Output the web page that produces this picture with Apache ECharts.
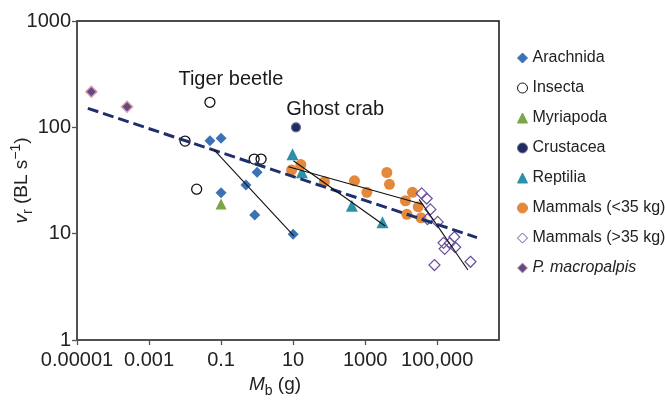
<!DOCTYPE html>
<html><head><meta charset="utf-8">
<script src="https://cdn.jsdelivr.net/npm/echarts@6/dist/echarts.min.js"></script>
<style>html,body{margin:0;padding:0;background:#fff}#c{width:665px;height:403px}</style>
</head><body><div id="c"></div>
<script>
// ---- data: [body mass (g), relative speed (BL s^-1)] ----
const arachnida = [[0.049,74.8],[0.1,78.8],[1.0,37.8],[0.49,28.7],[0.1,24.3],[0.86,15.0],[10,9.9]];
const insecta = [[0.049,172],[0.01,74.3],[0.021,26.2],[0.83,50.3],[1.29,50.3]];
const myriapoda = [[0.1,19.0]];
const crustacea = [[12,100]];
const reptilia = [[9.6,55.7],[17.5,37.8],[428,18.3],[3030,12.8]];
const mammalsSmall = [[9.1,39.7],[16.4,44.7],[74,30.8],[505,31.4],[1115,24.5],[4000,37.6],[4730,29.1],[20600,24.5],[13150,20.4],[29650,17.9],[14400,15.2],[35500,14.1]];
const mammalsLarge = [[37100,23.9],[51100,21.4],[64700,16.9],[53800,13.7],[103000,12.9],[300000,9.3],[150000,8.2],[225000,8.16],[161000,7.2],[316000,7.45],[84100,5.07],[841000,5.44]];
const pMacropalpis = [[2.5e-5,216],[2.45e-4,156]];
// fitted lines (end points)
const fitAll = [[2.0e-5,151],[1.27e6,9.19]];
const fitArachnida = [[0.065,61.2],[10.45,9.55]];
const fitReptilia = [[10.2,48.5],[3590,11.8]];
const fitMammalsSmall = [[7.4,42.6],[39000,18.9]];
const fitMammalsLarge = [[31600,21.0],[713000,4.55]];
// annotations [mass, speed, text]
const annotations = [[0.187,284,'Tiger beetle'],[147,145.6,'Ghost crab']];
// axes
const xMinMass = 1e-5, xMaxMass = 5.2e6;
const xTickValues = [1e-5,1e-3,0.1,10,1000,1e5];
const xTickLabels = ['0.00001','0.001','0.1','10','1000','100,000'];
const yMin = 1, yMax = 1000;

const FONT = 'Liberation Sans, Arial, Helvetica, sans-serif';
const L = p => [Math.log10(p[0]), p[1]];
const xTickLogs = xTickValues.map(v => Math.log10(v));

function scatter(name, data, symbol, size, color, borderColor, borderWidth) {
  return {
    name, type: 'scatter', data: data.map(L), symbol, symbolSize: size, z: 2,
    itemStyle: { color, borderColor: borderColor || color, borderWidth: borderWidth || 0, opacity: 1 }
  };
}
function fitLine(data, color, width, type) {
  return {
    type: 'line', data: data.map(L), symbol: 'none', showSymbol: false, silent: true, z: 3,
    lineStyle: { color, width, type }
  };
}

const series = [
  scatter('Arachnida', arachnida, 'diamond', 11, '#3b72b3'),
  scatter('Insecta', insecta, 'circle', 10, 'transparent', '#111', 1.3),
  scatter('Myriapoda', myriapoda, 'triangle', 11, '#7ca449'),
  scatter('Crustacea', crustacea, 'circle', 9, '#1c2d5e', '#7a5aa0', 1.2),
  scatter('Reptilia', reptilia, 'triangle', 12, '#2c90a8'),
  scatter('Mammals (<35 kg)', mammalsSmall, 'circle', 11, '#e4883c'),
  scatter('Mammals (>35 kg)', mammalsLarge, 'diamond', 11, 'transparent', '#6b509a', 1.2),
  scatter('P. macropalpis', pMacropalpis, 'diamond', 11, '#5f4a86', '#d99ca4', 1.5),
  fitLine(fitAll, '#1f2f6e', 3, [11, 5]),
  fitLine(fitArachnida, '#111', 1.1, 'solid'),
  fitLine(fitReptilia, '#111', 1.1, 'solid'),
  fitLine(fitMammalsSmall, '#111', 1.1, 'solid'),
  fitLine(fitMammalsLarge, '#111', 1.1, 'solid'),
  {
    type: 'scatter', silent: true, z: 4, symbolSize: 1,
    itemStyle: { color: '#ffffff', opacity: 1 },
    data: annotations.map(a => ({ value: [Math.log10(a[0]), a[1]], name: a[2] })),
    label: { show: true, position: 'inside', formatter: '{b}', fontSize: 20, fontFamily: FONT,
             color: '#1a1a1a', opacity: 1, textBorderWidth: 0 }
  }
];

const chart = echarts.init(document.getElementById('c'), null, { renderer: 'canvas' });
chart.setOption({
  animation: false,
  backgroundColor: '#fff',
  grid: { left: 77, top: 21, right: 166, bottom: 63, show: true, borderColor: '#111', borderWidth: 1.5,
          containLabel: false, outerBoundsMode: 'none' },
  legend: {
    orient: 'vertical', left: 517, top: 50, padding: 0, itemGap: 14, itemWidth: 10, itemHeight: 10,
    itemStyle: { borderWidth: 1 },
    data: ['Arachnida','Insecta','Myriapoda','Crustacea','Reptilia','Mammals (<35 kg)','Mammals (>35 kg)','P. macropalpis'],
    formatter: n => n === 'P. macropalpis' ? '{it|P. macropalpis}' : n,
    textStyle: { fontSize: 16, fontFamily: FONT, color: '#222', lineHeight: 16,
      rich: { it: { fontStyle: 'italic', fontSize: 16, fontFamily: FONT, color: '#222', lineHeight: 16 } } }
  },
  xAxis: {
    type: 'value', min: Math.log10(xMinMass), max: Math.log10(xMaxMass),
    splitLine: { show: false },
    axisLine: { onZero: false, lineStyle: { color: '#555', width: 1.5 } },
    axisTick: { show: true, length: 5, lineStyle: { color: '#555', width: 1.3 }, customValues: xTickLogs },
    axisLabel: { customValues: xTickLogs, margin: 10, fontSize: 20, lineHeight: 20, fontFamily: FONT, color: '#222',
      formatter: v => { const i = xTickLogs.findIndex(t => Math.abs(t - v) < 1e-6); return i >= 0 ? xTickLabels[i] : ''; } },
    name: '{i|M}{s|b} (g)', nameLocation: 'middle', nameGap: 32, nameMoveOverlap: false,
    nameTextStyle: { fontSize: 19, fontFamily: FONT, color: '#222', lineHeight: 26, padding: [0, 26, 0, 0],
      rich: { i: { fontStyle: 'italic', fontSize: 19, fontFamily: FONT, color: '#222', lineHeight: 26 },
              s: { fontSize: 14, fontFamily: FONT, color: '#222', lineHeight: 14, verticalAlign: 'bottom' } } }
  },
  yAxis: {
    type: 'log', logBase: 10, min: yMin, max: yMax,
    splitLine: { show: false }, minorTick: { show: false },
    axisLine: { show: true, onZero: false, lineStyle: { color: '#555', width: 1.5 } },
    axisTick: { show: true, length: 5, lineStyle: { color: '#555', width: 1.3 } },
    axisLabel: { margin: 6, fontSize: 20, lineHeight: 20, fontFamily: FONT, color: '#222', padding: [0, 0, 5, 0],
      formatter: v => String(Math.round(v)) },
    name: '{i|v}{s|r} (BL s{p|\u22121})', nameLocation: 'middle', nameRotate: 90, nameGap: 42, nameMoveOverlap: false,
    nameTextStyle: { fontSize: 19, fontFamily: FONT, color: '#222', lineHeight: 26,
      rich: { i: { fontStyle: 'italic', fontSize: 19, fontFamily: FONT, color: '#222', lineHeight: 26 },
              s: { fontSize: 14, fontFamily: FONT, color: '#222', lineHeight: 14, verticalAlign: 'bottom' },
              p: { fontSize: 14, fontFamily: FONT, color: '#222', lineHeight: 14, verticalAlign: 'top' } } }
  },
  series
});
</script></body></html>
